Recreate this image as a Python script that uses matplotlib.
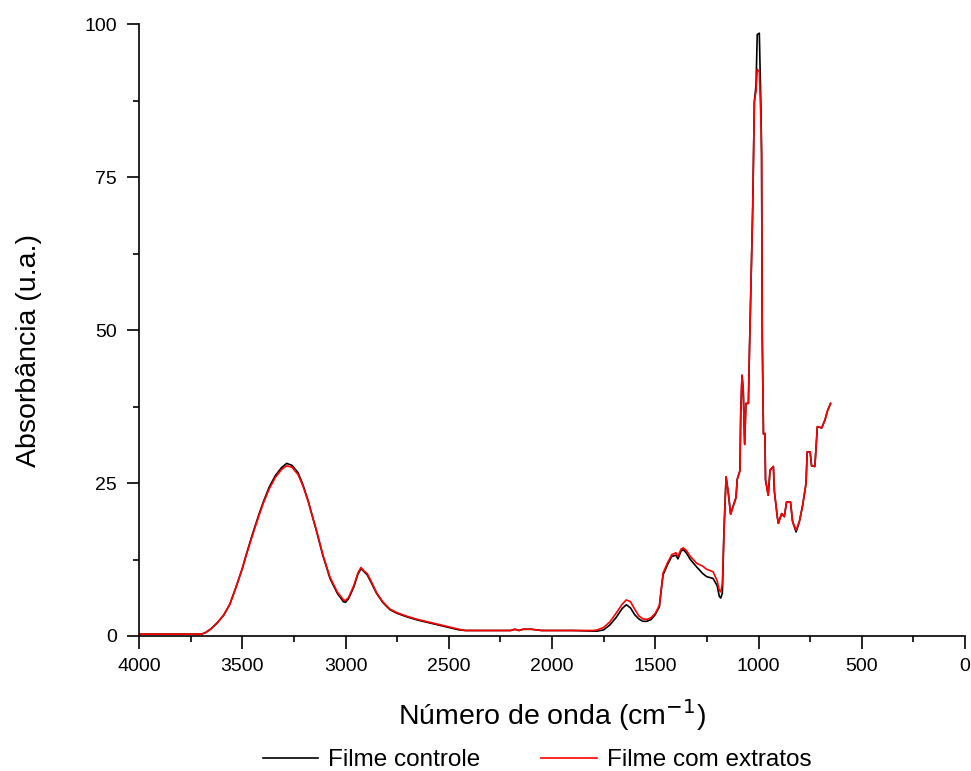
import matplotlib
matplotlib.use("Agg")
import matplotlib.pyplot as plt  # noqa: E402
from matplotlib.ticker import MultipleLocator  # noqa: E402

# wavenumber grid (cm-1) shared by both spectra
wavenumber = [
    4000, 3700, 3680, 3650, 3620, 3590, 3560, 3530, 3500, 3478, 3450, 3420,
    3398, 3370, 3340, 3310, 3285, 3260, 3230, 3206, 3180, 3160, 3140, 3110,
    3075, 3040, 3010, 3000, 2985, 2960, 2940, 2925, 2910, 2895, 2875, 2850,
    2820, 2785, 2750, 2700, 2650, 2600, 2550, 2500, 2450, 2420, 2300, 2200,
    2180, 2160, 2140, 2100, 2050, 1900, 1800, 1780, 1750, 1720, 1690, 1660,
    1640, 1620, 1600, 1580, 1560, 1541, 1520, 1500, 1480, 1470, 1462, 1440,
    1420, 1400, 1390, 1375, 1364, 1350, 1330, 1300, 1270, 1251, 1220, 1200,
    1190, 1183, 1175, 1167, 1157, 1146, 1135, 1122, 1109, 1103, 1090, 1086,
    1080, 1074, 1067, 1061, 1049, 1044, 1038, 1028, 1020, 1012, 1006, 996,
    988, 985, 982, 976, 969, 966, 953, 944, 928, 923, 909, 904, 888, 875,
    864, 845, 835, 818, 802, 786, 770, 764, 750, 743, 727, 715, 694, 678,
    667, 651,
]

controle = [
    0.3, 0.3, 0.5, 1.2, 2.2, 3.4, 5.2, 8.0, 11.0, 13.6, 16.7, 19.8,
    21.9, 24.3, 26.2, 27.5, 28.2, 27.9, 26.7, 24.7, 22.0, 19.5, 17.1, 13.2,
    9.4, 7.0, 5.6, 5.5, 6.1, 8.0, 10.1, 11.0, 10.5, 10.0, 8.7, 7.0,
    5.5, 4.3, 3.7, 3.1, 2.6, 2.2, 1.8, 1.4, 1.0, 0.9, 0.9, 0.9,
    1.1, 0.9, 1.1, 1.1, 0.9, 0.9, 0.8, 0.8, 1.0, 1.8, 3.0, 4.5,
    5.1, 4.6, 3.5, 2.8, 2.4, 2.4, 2.7, 3.5, 4.8, 7.8, 10.0, 11.7,
    13.0, 13.2, 12.6, 13.9, 14.1, 13.6, 12.5, 11.3, 10.2, 9.7, 9.4, 8.2,
    6.5, 6.2, 7.0, 17.3, 26.0, 23.3, 19.9, 21.3, 22.6, 25.6, 27.0, 36.3,
    42.6, 40.3, 31.3, 38.0, 38.0, 46.3, 55.3, 70.0, 87.3, 90.0, 98.3, 98.5,
    86.0, 78.6, 49.3, 33.0, 33.1, 25.5, 23.0, 27.1, 27.7, 23.6, 19.5, 18.4, 20.0, 19.5,
    21.9, 21.9, 18.7, 17.0, 18.7, 21.4, 24.9, 30.1, 30.1, 27.8, 27.7, 34.2, 34.0, 35.3,
    36.7, 38.0,
]

extratos = [
    0.3, 0.3, 0.5, 1.2, 2.2, 3.4, 5.2, 8.0, 11.0, 13.5, 16.5, 19.6,
    21.7, 24.0, 25.9, 27.2, 27.8, 27.6, 26.4, 24.5, 21.9, 19.5, 17.2, 13.3,
    9.6, 7.2, 5.9, 5.8, 6.3, 8.2, 10.3, 11.2, 10.6, 10.2, 8.9, 7.1,
    5.6, 4.4, 3.8, 3.2, 2.7, 2.3, 1.9, 1.5, 1.1, 0.9, 0.9, 0.9,
    1.1, 0.9, 1.1, 1.1, 0.9, 0.9, 0.9, 1.0, 1.4, 2.3, 3.7, 5.2,
    5.9, 5.6, 4.4, 3.3, 2.8, 2.7, 3.0, 3.7, 5.0, 8.0, 10.3, 12.0,
    13.3, 13.6, 13.0, 14.2, 14.4, 14.0, 13.0, 11.9, 11.4, 10.9, 10.5, 9.0,
    7.5, 7.2, 8.5, 17.3, 26.0, 23.3, 19.9, 21.3, 22.6, 25.6, 27.0, 36.3,
    42.6, 40.3, 31.3, 38.0, 38.0, 46.3, 55.3, 70.0, 87.3, 89.0, 92.6, 92.2,
    84.0, 78.6, 49.3, 33.0, 33.1, 25.5, 23.0, 27.1, 27.7, 23.6, 19.5, 18.4, 20.0, 19.5,
    21.9, 21.9, 18.7, 17.3, 18.7, 21.4, 24.9, 30.1, 30.1, 27.8, 27.7, 34.2, 34.0, 35.3,
    36.7, 38.0,
]

plt.rcParams["font.family"] = ["Liberation Sans", "DejaVu Sans"]

fig = plt.figure(figsize=(9.71, 7.71), dpi=100)
ax = fig.add_axes([139 / 971, 135 / 771, 826 / 971, 612 / 771])

ax.plot(wavenumber, controle, color="black", lw=1.2, label="Filme controle")
ax.plot(wavenumber, extratos, color="#ff0000", lw=1.2, label="Filme com extratos")

ax.set_xlim(4000, 0)
ax.set_ylim(0, 100)
ax.xaxis.set_major_locator(MultipleLocator(500))
ax.xaxis.set_minor_locator(MultipleLocator(250))
ax.yaxis.set_major_locator(MultipleLocator(25))
ax.yaxis.set_minor_locator(MultipleLocator(12.5))

for side in ("top", "right"):
    ax.spines[side].set_visible(False)
for side in ("left", "bottom"):
    ax.spines[side].set_linewidth(1.2)

ax.tick_params(which="major", direction="out", length=9, width=1.2, labelsize=14, pad=7)
ax.tick_params(which="minor", direction="out", length=4.5, width=1.2)

ax.set_xlabel("Número de onda (cm$^{-1}$)", fontsize=20.5)
ax.set_ylabel("Absorbância (u.a.)", fontsize=20.5)
ax.xaxis.set_label_coords(0.5, -0.1)
ax.yaxis.set_label_coords(-0.118, 0.466)

fig.legend(loc="center", bbox_to_anchor=(537 / 971, 11 / 771), ncol=2, frameon=False,
           fontsize=17.5, handlelength=2.3, columnspacing=2.5, handletextpad=0.4)

fig.savefig("out.png", dpi=100)
